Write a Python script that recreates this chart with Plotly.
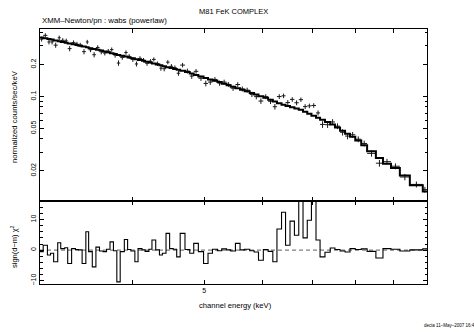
import numpy as np
import plotly.graph_objects as go

# ---- data ----
energy_edges = [
    3.00, 3.03, 3.07, 3.10, 3.13, 3.17, 3.20, 3.24, 3.27, 3.31,
    3.35, 3.38, 3.42, 3.46, 3.49, 3.53, 3.57, 3.61, 3.65, 3.69,
    3.73, 3.77, 3.81, 3.85, 3.90, 3.94, 3.98, 4.03, 4.07, 4.12,
    4.16, 4.21, 4.25, 4.30, 4.35, 4.39, 4.44, 4.49, 4.54, 4.59,
    4.64, 4.71, 4.78, 4.84, 4.91, 4.99, 5.06, 5.13, 5.21, 5.28,
    5.36, 5.43, 5.51, 5.59, 5.67, 5.76, 5.84, 5.92, 6.01, 6.10,
    6.19,
    6.27, 6.36, 6.44, 6.53, 6.62, 6.71, 6.80, 6.89, 6.98, 7.08,
    7.17, 7.28, 7.40, 7.51, 7.63, 7.75, 7.87, 8.00, 8.15, 8.30,
    8.53, 8.72, 8.94, 9.19, 9.48, 9.87, 10.0,
]

model_counts = [
    0.361, 0.355, 0.349, 0.344, 0.338, 0.332, 0.327, 0.321, 0.316, 0.311,
    0.306, 0.301, 0.296, 0.291, 0.286, 0.281, 0.276, 0.271, 0.266, 0.261,
    0.256, 0.252, 0.247, 0.243, 0.238, 0.234, 0.230, 0.225, 0.221, 0.217,
    0.213, 0.209, 0.205, 0.201, 0.197, 0.193, 0.189, 0.186, 0.182, 0.179,
    0.175, 0.170, 0.165, 0.160, 0.155, 0.150, 0.145, 0.141, 0.137, 0.132,
    0.128, 0.124, 0.120, 0.116, 0.112, 0.108, 0.1045, 0.1009, 0.0975, 0.0936,
    0.0899,
    0.0865, 0.0840, 0.0817, 0.0794, 0.0772, 0.0750, 0.0719, 0.0689, 0.0661, 0.0633,
    0.0605, 0.0575, 0.0547, 0.0512, 0.0478, 0.0447, 0.0418, 0.0386, 0.0348, 0.0305,
    0.0264, 0.0233, 0.0213, 0.0181, 0.0146, 0.0128,
]

data_counts = [
    0.348, 0.377, 0.327, 0.327, 0.305, 0.358, 0.339, 0.335, 0.283, 0.322,
    0.313, 0.306, 0.265, 0.327, 0.276, 0.248, 0.290, 0.264, 0.257, 0.268,
    0.277, 0.246, 0.207, 0.234, 0.260, 0.239, 0.224, 0.203, 0.229, 0.220,
    0.206, 0.215, 0.224, 0.204, 0.185, 0.183, 0.211, 0.193, 0.187, 0.166,
    0.198, 0.174, 0.156, 0.173, 0.149, 0.133, 0.137, 0.145, 0.134, 0.137,
    0.130, 0.120, 0.130, 0.118, 0.115, 0.105, 0.100, 0.0908, 0.0999, 0.0903,
    0.0803,
    0.1001, 0.1017, 0.0879, 0.0941, 0.0875, 0.0936, 0.0805, 0.0818, 0.0825, 0.0702,
    0.0547, 0.0544, 0.0577, 0.0527, 0.0461, 0.0425, 0.0437, 0.0397, 0.0362, 0.0292,
    0.0236, 0.0244, 0.0221, 0.0175, 0.0149, 0.0133,
]

data_errors = [
    0.018, 0.018, 0.017, 0.017, 0.017, 0.017, 0.016, 0.016, 0.016, 0.016,
    0.015, 0.015, 0.015, 0.015, 0.014, 0.014, 0.014, 0.014, 0.013, 0.013,
    0.013, 0.013, 0.012, 0.012, 0.012, 0.012, 0.012, 0.011, 0.011, 0.011,
    0.011, 0.010, 0.010, 0.010, 0.010, 0.010, 0.0095, 0.0093, 0.0091, 0.0090,
    0.0096, 0.0094, 0.0091, 0.0088, 0.0085, 0.0083, 0.0080, 0.0078, 0.0075, 0.0073,
    0.0070, 0.0068, 0.0066, 0.0064, 0.0062, 0.0059, 0.0057, 0.0055, 0.0054, 0.0051,
    0.0049,
    0.0052, 0.0050, 0.0049, 0.0048, 0.0046, 0.0045, 0.0043, 0.0041, 0.0040, 0.0038,
    0.0039, 0.0037, 0.0036, 0.0033, 0.0031, 0.0029, 0.0027, 0.0025, 0.0023, 0.0020,
    0.0017, 0.0015, 0.0014, 0.0012, 0.00095, 0.00083,
]

residual_chi2 = [
    -0.5, 1.6, -1.6, -1.0, -3.8, 2.4, 0.5, 0.8, -4.4, 0.5,
    0.2, 0.1, -4.4, 6.0, -0.5, -5.5, 1.0, -0.3, -0.5, 0.3,
    2.7, -0.2, -10.4, -0.5, 3.5, 0.2, -0.3, -3.8, 0.5, 0.1,
    -0.4, 0.3, 3.3, 0.1, -1.6, -1.0, 5.5, 0.5, 0.3, -2.2,
    5.5, 0.2, -1.0, 2.2, -0.5, -4.4, -1.0, 0.3, -0.2, 0.4,
    0.1, -0.3, 2.2, 0.1, 0.3, -0.2, -0.6, -3.3, 0.2, -0.4,
    -3.8,
    6.9, 12.4, 1.6, 9.5, 4.9, 17.0, 4.0, 9.8, 17.0, 3.3,
    -2.2, -0.7, 0.7, 0.2, -0.3, -0.6, 0.5, 0.2, 0.4, -0.4,
    -2.6, 0.5, 0.3, -0.3, 0.1, 0.4,
]

x_tick_vals = [5]
x_tick_text = ["5"]
x_minor_vals = [4, 6, 7, 8, 9]
y_tick_vals = [0.02, 0.05, 0.1, 0.2]
y_tick_text = ["0.02", "0.05", "0.1", "0.2"]
y_minor_vals = [0.03, 0.04, 0.06, 0.07, 0.08, 0.09, 0.3, 0.4]
r_tick_vals = [-10, 0, 10]

# ---- geometry ----
lo = np.array(energy_edges[:-1])
hi = np.array(energy_edges[1:])
centre = (lo + hi) / 2.0
half = (hi - lo) / 2.0

FONT = "Liberation Sans, Arial, sans-serif"
INK = "#1a1a1a"

fig = go.Figure()

fig.add_trace(go.Scatter(
    x=centre, y=data_counts, mode="markers",
    marker=dict(size=1, color=INK, opacity=0),
    error_x=dict(type="data", array=half, width=0, thickness=1, color=INK),
    error_y=dict(type="data", array=data_errors, width=0, thickness=1, color=INK),
    xaxis="x", yaxis="y", showlegend=False, hoverinfo="skip",
))
fig.add_trace(go.Scatter(
    x=energy_edges, y=model_counts + [model_counts[-1]], mode="lines",
    line=dict(shape="hv", color="black", width=2),
    xaxis="x", yaxis="y", showlegend=False,
))
fig.add_trace(go.Scatter(
    x=[energy_edges[0], energy_edges[-1]], y=[0, 0], mode="lines",
    line=dict(color="#808080", width=1.3, dash="4px,3px"),
    xaxis="x2", yaxis="y2", showlegend=False,
))
fig.add_trace(go.Scatter(
    x=energy_edges, y=residual_chi2 + [residual_chi2[-1]], mode="lines",
    line=dict(shape="hv", color="black", width=1.1),
    xaxis="x2", yaxis="y2", showlegend=False,
))

split = 0.3255
axis_common = dict(showline=True, linecolor="black", linewidth=1, mirror="ticks",
                   ticks="inside", tickcolor="black", tickwidth=1,
                   showgrid=False, zeroline=False)
xrange = [np.log10(3.0), np.log10(10.0)]
x_minor = dict(tickvals=x_minor_vals, ticklen=4, ticks="inside", tickcolor="black")

fig.update_layout(
    width=474, height=332,
    margin=dict(l=40, r=47, t=29, b=48),
    paper_bgcolor="white", plot_bgcolor="white",
    font=dict(family=FONT, size=7, color="black"),
    xaxis=dict(domain=[0, 1], anchor="y", type="log", range=xrange,
               tickvals=x_tick_vals, ticklen=4, showticklabels=False,
               minor=x_minor, **axis_common),
    yaxis=dict(domain=[split, 1], anchor="x", type="log",
               range=[np.log10(0.0104), np.log10(0.433)],
               tickvals=y_tick_vals, ticktext=y_tick_text, tickangle=-90, ticklen=4,
               minor=dict(tickvals=y_minor_vals, ticklen=2.5, ticks="inside", tickcolor="black"),
               **axis_common),
    xaxis2=dict(domain=[0, 1], anchor="y2", type="log", range=xrange, matches="x",
                tickvals=x_tick_vals, ticktext=x_tick_text, ticklen=4,
                minor=x_minor, **axis_common),
    yaxis2=dict(domain=[0, split], anchor="x2", range=[-11.1, 16.1],
                tickvals=r_tick_vals, tickangle=-90, ticklen=4,
                minor=dict(dtick=2, ticklen=2.5, ticks="inside", tickcolor="black"),
                **axis_common),
)

def ypix(p):
    # pixel row -> paper y
    return (284 - p) / 255.0

def xpix(p):
    return (p - 40) / 387.0

ann = [
    dict(text="M81 FeK COMPLEX", x=0.5, y=ypix(11), xanchor="center", yanchor="middle",
         font=dict(size=7.5)),
    dict(text="XMM\u2013Newton/pn : wabs (powerlaw)", x=0, y=ypix(21), xanchor="left",
         yanchor="middle", font=dict(size=7.8)),
    dict(text="normalized counts/sec/keV", x=xpix(14), y=ypix(117), textangle=-90,
         xanchor="center", yanchor="middle", font=dict(size=7.7)),
    dict(text="sign(d\u2212m) \u03c7<sup>2</sup>", x=xpix(14), y=ypix(247), textangle=-90,
         xanchor="center", yanchor="middle", font=dict(size=7.5)),
    dict(text="channel energy (keV)", x=xpix(235), y=ypix(305), xanchor="center",
         yanchor="middle", font=dict(size=7.6)),
    dict(text="decia 11\u2013May\u20132007 16:4", x=xpix(422), y=ypix(325), xanchor="left",
         yanchor="middle", font=dict(size=4.5)),
]
for a in ann:
    a.update(xref="paper", yref="paper", showarrow=False)
fig.update_layout(annotations=ann)

fig.write_html("out.html", config={"displayModeBar": False},
               post_script="document.body.style.margin='0';")
